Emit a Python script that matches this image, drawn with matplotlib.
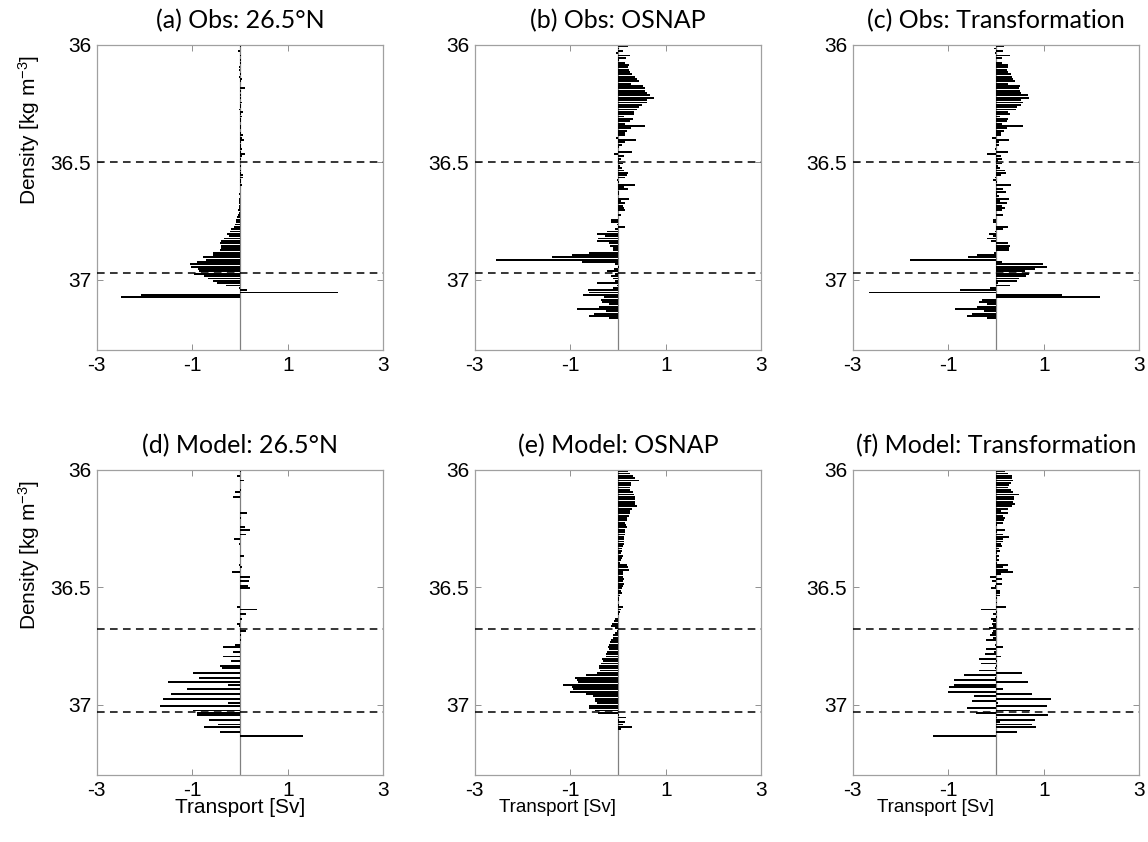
import numpy as np
import matplotlib
matplotlib.use("Agg")
import matplotlib.pyplot as plt

plt.rcParams["font.family"] = ["Liberation Sans", "DejaVu Sans"]
plt.rcParams["mathtext.default"] = "regular"
plt.rcParams["axes.unicode_minus"] = False

# transport per density bin [Sv], bins of 0.01 kg m-3 starting at 36.00
obs_265 = [0.03, 0.01, -0.05, 0.01, 0.03, 0.01, 0.02, 0.02, 0.01, -0.03,
           -0.02, 0.01, 0.02, -0.02, 0.05, 0.02, 0.01, 0.01, 0.10, 0.03,
           0.01, 0.03, 0.03, 0.01, 0.05, 0.02, 0.02, -0.03, 0.07, 0.02,
           0.05, 0.03, 0.03, 0.01, 0.02, 0.03, 0.01, 0.03, 0.06, 0.04,
           0.08, 0.03, 0.02, 0.03, 0.04, 0.02, 0.10, 0.05, 0.02, 0.01,
           0.01, 0.02, 0.01, 0.02, 0.02, 0.06, 0.07, 0.02, 0.03, 0.04,
           0.01, -0.01, -0.01, -0.02, -0.01, -0.03, -0.02, -0.03, -0.02, -0.02,
           -0.04, -0.02, -0.05, -0.07, -0.08, -0.09, -0.11, -0.125, -0.18, -0.21,
           -0.28, -0.23, -0.33, -0.40, -0.42, -0.39, -0.40, -0.42, -0.56, -0.56,
           -0.78, -0.72, -0.90, -1.05, -1.03, -0.875, -0.85, -0.96, -0.76, -0.67,
           -0.56, -0.49, -0.30, -0.03, 0.14, 2.06, -2.08, -2.50]

obs_osnap = [0.21, 0.03, 0.10, -0.04, 0.26, 0.17, 0.01, 0.14, 0.22, 0.21,
             0.22, 0.26, 0.29, 0.35, 0.40, 0.43, 0.28, 0.53, 0.56, 0.57,
             0.60, 0.67, 0.76, 0.60, 0.60, 0.51, 0.44, 0.40, 0.33, 0.33,
             0.12, 0.31, 0.26, 0.14, 0.56, 0.28, 0.19, 0.15, 0.14, -0.04,
             0.38, 0.15, 0.08, 0.03, 0.0, 0.29, -0.08, 0.13, 0.07, 0.03,
             0.10, 0.05, 0.08, 0.12, 0.21, 0.19, 0.15, -0.02, 0.01, 0.36,
             0.12, 0.21, 0.03, 0.01, 0.0, 0.24, 0.07, 0.15, 0.10, 0.12,
             0.14, -0.01, 0.06, 0.0, -0.14, -0.14, -0.02, 0.14, -0.06, -0.23,
             -0.44, -0.28, -0.42, -0.44, -0.18, -0.16, -0.11, -0.11, -0.60, -0.96,
             -1.39, -2.56, -0.76, -0.06, 0.03, -0.09, -0.23, -0.06, -0.14, -0.11,
             -0.06, -0.44, -0.02, -0.11, -0.62, -0.60, -0.74, -0.30, -0.35, -0.33,
             -0.19, -0.40, -0.85, -0.26, -0.51, -0.61, -0.18]

obs_trans = [0.17, -0.04, 0.15, -0.03, 0.29, 0.13, -0.01, 0.12, 0.25, 0.26,
             0.22, 0.24, 0.32, 0.33, 0.36, 0.40, 0.26, 0.51, 0.47, 0.51,
             0.53, 0.67, 0.69, 0.53, 0.57, 0.53, 0.43, 0.42, 0.24, 0.29,
             0.08, 0.25, 0.22, 0.13, 0.56, 0.22, 0.17, 0.10, 0.10, -0.08,
             0.28, 0.07, 0.06, -0.01, -0.03, 0.26, -0.19, 0.10, 0.12, 0.05,
             0.12, 0.05, 0.08, 0.19, 0.21, 0.10, -0.03, -0.06, 0.01, 0.31,
             0.0, 0.15, 0.21, 0.01, 0.07, 0.28, 0.08, 0.22, 0.13, 0.19,
             0.12, 0.0, 0.15, 0.0, -0.07, -0.06, 0.0, 0.24, 0.15, -0.03,
             -0.14, -0.06, -0.19, -0.10, 0.24, 0.29, 0.28, 0.28, -0.04, -0.39,
             -0.58, -1.81, 0.13, 0.99, 1.07, 0.81, 0.60, 0.69, 0.63, 0.49,
             0.44, 0.05, 0.29, -0.125, -0.75, -2.65, 1.37, 2.17, -0.30, -0.35,
             -0.19, -0.40, -0.85, -0.26, -0.51, -0.61, -0.18]

mod_265 = [0.03, 0.0, -0.06, 0.0, 0.08, 0.0, -0.01, 0.0, 0.03, -0.11,
           0.0, -0.14, 0.0, 0.0, 0.0, 0.0, 0.0, 0.0, 0.15, 0.0,
           0.03, 0.0, 0.0, 0.0, 0.10, 0.21, 0.0, 0.13, 0.0, -0.125,
           0.0, -0.03, 0.0, 0.0, 0.0, 0.0, 0.08, 0.0, 0.0, 0.0,
           -0.03, 0.05, 0.0, -0.17, 0.0, 0.21, 0.0, 0.18, 0.0, 0.17,
           0.21, 0.0, 0.0, 0.0, 0.0, 0.0, 0.0, 0.0, -0.07, 0.36,
           0.0, 0.12, 0.0, 0.05, 0.0, -0.07, -0.03, 0.0, 0.12, 0.0,
           0.03, 0.0, 0.03, 0.0, -0.10, -0.35, 0.0, -0.14, 0.0, -0.36,
           0.0, -0.19, 0.0, -0.42, -0.375, 0.0, -0.99, 0.0, -0.86, 0.0,
           -1.51, -0.25, 0.0, -1.10, 0.0, -1.44, 0.0, -1.62, 0.0, -0.25,
           -1.67, 0.0, -0.99, -0.89, -0.89, 0.0, -0.65, 0.0, -0.46, -0.75,
           0.0, -0.42, 0.0, 1.32]

mod_osnap = [0.21, 0.26, 0.31, 0.35, 0.43, 0.28, 0.28, 0.26, 0.26, 0.31,
             0.33, 0.35, 0.36, 0.36, 0.35, 0.40, 0.29, 0.26, 0.25, 0.22,
             0.19, 0.18, 0.15, 0.17, 0.19, 0.15, 0.14, 0.14, 0.13, 0.13,
             0.12, 0.13, 0.10, 0.08, 0.08, 0.07, 0.10, 0.08, 0.06, 0.04,
             0.19, 0.21, 0.24, 0.11, 0.10, 0.11, 0.12, 0.10, 0.13, 0.11,
             0.08, 0.07, 0.08, 0.05, 0.03, 0.01, 0.0, 0.03, 0.10, 0.06,
             0.05, 0.03, -0.01, -0.06, -0.08, -0.125, -0.14, -0.07, -0.03, -0.07,
             -0.10, -0.11, -0.14, -0.16, -0.19, -0.21, -0.19, -0.23, -0.25, -0.26,
             -0.33, -0.31, -0.35, -0.39, -0.40, -0.37, -0.44, -0.68, -0.90, -0.85,
             -0.83, -1.15, -0.97, -0.94, -1.01, -0.68, -0.53, -0.49, -0.49, -0.44,
             -0.61, -0.61, -0.49, -0.42, 0.03, 0.17, 0.03, 0.15, 0.10, 0.29,
             0.07]

mod_trans = [0.19, 0.26, 0.33, 0.33, 0.35, 0.31, 0.28, 0.24, 0.31, 0.36,
             0.47, 0.38, 0.38, 0.36, 0.40, 0.33, 0.26, 0.10, 0.26, 0.15,
             0.19, 0.17, 0.15, 0.03, 0.0, 0.18, 0.03, 0.14, 0.28, 0.15,
             0.14, 0.11, 0.13, 0.07, 0.08, 0.01, 0.07, 0.03, 0.06, 0.01,
             0.24, 0.14, 0.25, 0.35, 0.10, -0.125, 0.12, -0.08, 0.12, -0.03,
             -0.11, 0.08, 0.08, 0.08, 0.03, 0.0, 0.01, 0.0, 0.21, -0.31,
             0.03, -0.06, 0.03, -0.11, -0.07, -0.08, -0.06, -0.14, -0.07, -0.08,
             -0.125, -0.06, -0.21, 0.0, -0.02, 0.15, -0.21, -0.05, -0.24, 0.10,
             -0.35, 0.01, -0.31, 0.01, -0.02, -0.36, 0.54, -0.68, -0.03, -0.89,
             0.67, -0.89, -0.99, 0.14, -1.01, 0.76, -0.46, 1.14, -0.51, 0.05,
             1.06, -0.61, 0.71, -0.42, 1.08, 0.03, 0.82, 0.08, 0.76, 0.83,
             0.0, 0.43, 0.0, -1.32]

series = [obs_265, obs_osnap, obs_trans, mod_265, mod_osnap, mod_trans]
titles = ["(a) Obs: 26.5\u00b0N", "(b) Obs: OSNAP", "(c) Obs: Transformation",
          "(d) Model: 26.5\u00b0N", "(e) Model: OSNAP", "(f) Model: Transformation"]
# density layer boundaries (dashed)
obs_bounds = [36.5, 36.97]
mod_bounds = [36.68, 37.03]

dens_start, dens_step = 36.0, 0.01

fig = plt.figure(figsize=(11.48, 8.42), dpi=100)
lefts = [0.0842, 0.4135, 0.7428]
bottoms = [0.5843, 0.0796]
w, h = 0.2497, 0.3623

for i, vals in enumerate(series):
    row, col = divmod(i, 3)
    ax = fig.add_axes([lefts[col], bottoms[row], w, h])
    y = dens_start + dens_step * (np.arange(len(vals)) + 0.5)
    ax.axvline(0, color="#808080", lw=0.9, zorder=1)
    ax.barh(y, vals, height=0.8 * dens_step, color="k", lw=0, zorder=2)
    for b in (obs_bounds if row == 0 else mod_bounds):
        ax.axhline(b, color="k", lw=1.1, ls=(0, (5, 3.5)), zorder=3)
    ax.set_xlim(-3, 3)
    ax.set_ylim(37.3, 36.0)
    ax.set_xticks([-3, -1, 1, 3])
    ax.set_yticks([36, 36.5, 37])
    ax.set_yticklabels(["36", "36.5", "37"])
    ax.tick_params(direction="in", top=True, right=True, length=4, width=0.6,
                   color="#808080", labelsize=15, pad=4)
    for s in ax.spines.values():
        s.set_color("#a0a0a0")
        s.set_linewidth(0.9)
    ax.set_title(titles[i], family="Lato", fontsize=18, pad=12)
    if col == 0:
        ax.set_ylabel("Density [kg m$^{-3}$]", fontsize=15)
        ax.yaxis.set_label_coords(-0.19, 0.72)
    if row == 1:
        if col == 0:
            ax.set_xlabel("Transport [Sv]", fontsize=15, labelpad=-1)
        else:
            ax.set_xlabel("Transport [Sv]", fontsize=13.5)
            ax.xaxis.set_label_coords(0.29, -0.078)

fig.savefig("out.png", dpi=100)
